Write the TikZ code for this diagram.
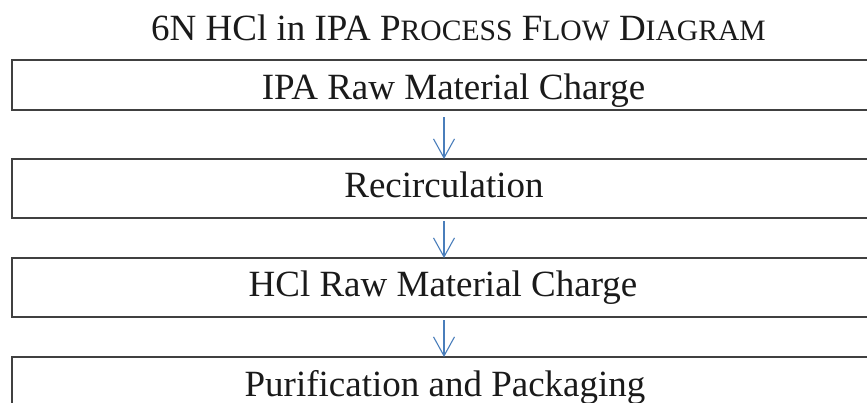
\documentclass[tikz,border=0pt]{standalone}
\usepackage{fontspec}
\setmainfont{Liberation Serif}
\usetikzlibrary{arrows.meta}
\definecolor{boxgray}{HTML}{404040}
\definecolor{arrowblue}{HTML}{4A7EBB}
\definecolor{inktext}{HTML}{1A1A1A}
\tikzset{
  procbox/.style={draw=boxgray, line width=1.6pt, minimum width=880pt, minimum height=#1, inner sep=0pt, outer sep=0pt, anchor=north west},
  boxlabel/.style={font=\fontsize{37}{40}\selectfont, text=inktext, anchor=base, inner sep=0pt},
  flow/.style={draw=arrowblue, line width=1.1pt, -{Straight Barb[length=19pt, width=21pt, line width=1.1pt]}}
}
\newcommand{\smc}[1]{{\fontsize{29.6}{32}\selectfont #1}}
\begin{document}
\begin{tikzpicture}[x=1pt,y=-1pt]
\clip (0,0) rectangle (867,402);
\node[boxlabel] (title) at (458.5,40) {6N HCl in IPA P\smc{ROCESS} F\smc{LOW} D\smc{IAGRAM}};
\node[procbox=50pt] (b1) at (12,60) {};
\node[procbox=59pt] (b2) at (12,159) {};
\node[procbox=59pt] (b3) at (12,258) {};
\node[procbox=80pt] (b4) at (12,357) {};
\node[boxlabel] (t1) at (453.5,99.3) {IPA Raw Material Charge};
\node[boxlabel] (t2) at (444,197.7) {Recirculation};
\node[boxlabel] (t3) at (443,296) {HCl Raw Material Charge};
\node[boxlabel] (t4) at (445,396.5) {Purification and Packaging};
\coordinate (ax) at (444,0);
\draw[flow] ([yshift=-7pt]b1.south -| ax) -- (b2.north -| ax);
\draw[flow] ([yshift=-3pt]b2.south -| ax) -- (b3.north -| ax);
\draw[flow] ([yshift=-3pt]b3.south -| ax) -- (b4.north -| ax);
\end{tikzpicture}
\end{document}
